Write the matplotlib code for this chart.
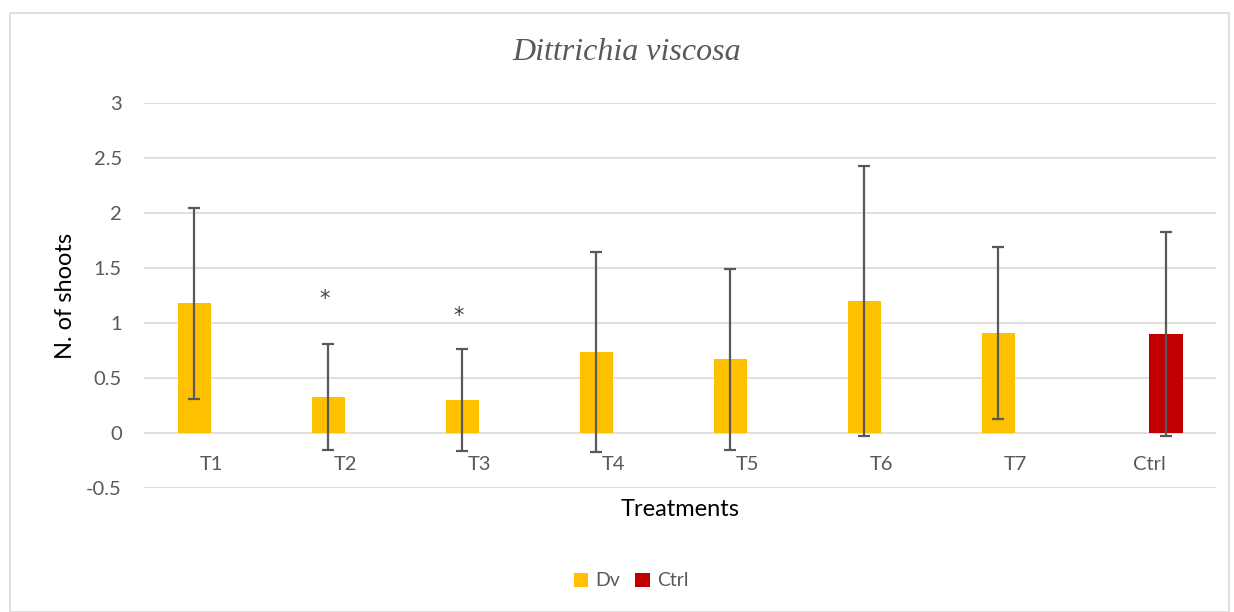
import matplotlib
matplotlib.use("Agg")
import matplotlib.pyplot as plt
import numpy as np
from matplotlib.patches import Rectangle

# data
categorias = ["T1", "T2", "T3", "T4", "T5", "T6", "T7", "Ctrl"]
dv_media = [1.18, 0.33, 0.30, 0.74, 0.67, 1.20, 0.91]
dv_erro = [0.87, 0.48, 0.46, 0.91, 0.82, 1.23, 0.78]
ctrl_media = [0.90]
ctrl_erro = [0.93]
asteriscos = {"T2": 1.22, "T3": 1.06}

cinza = "#595959"
plt.rcParams["font.family"] = ["Lato", "DejaVu Sans"]

fig = plt.figure(figsize=(12.34, 6.12), dpi=100)
ax = fig.add_axes([144/1234, 1 - 488/612, 1072/1234, 385/612])

# borda da figura
fig.patches.append(Rectangle((10/1234, 0), 1219/1234, 1 - 13/612,
                             transform=fig.transFigure, fill=False,
                             edgecolor="#d9d9d9", linewidth=1.2))

x = np.arange(len(categorias))
larg = 0.25
x_dv = x[:len(dv_media)] - larg/2
x_ctrl = x[len(dv_media):] + larg/2

err_kw = dict(ecolor=cinza, elinewidth=1.6, capsize=4.5, capthick=1.6)
ax.bar(x_dv, dv_media, larg, color="#FFC000", label="Dv",
       yerr=dv_erro, error_kw=err_kw, zorder=3)
ax.bar(x_ctrl, ctrl_media, larg, color="#C00000", label="Ctrl",
       yerr=ctrl_erro, error_kw=err_kw, zorder=3)

for cat, yv in asteriscos.items():
    i = categorias.index(cat)
    ax.text(x[i] - larg/2 - 0.03, yv, "*", ha="center", va="center",
            fontsize=15, color="#404040", family=["DejaVu Sans"])

ax.set_xlim(-0.5, len(categorias) - 0.5)
ax.set_ylim(-0.5, 3)
ax.set_yticks(np.arange(-0.5, 3.01, 0.5))
ax.set_yticklabels(["-0.5", "0", "0.5", "1", "1.5", "2", "2.5", "3"])
ax.yaxis.grid(True, color="#d9d9d9", linewidth=1.2, zorder=0)
ax.set_axisbelow(True)
for s in ax.spines.values():
    s.set_visible(False)
ax.tick_params(length=0, labelsize=14.5, colors=cinza, pad=16)
ax.set_xticks([])
# rótulos das categorias logo abaixo do zero, como no Excel
for i, c in enumerate(categorias):
    ax.text(x[i], -0.29, c, ha="center", va="center", fontsize=14.5, color=cinza)

ax.set_ylabel("N. of shoots", fontsize=17, color="black", labelpad=7)
fig.text(680/1234, 1 - 510/612, "Treatments", ha="center", va="center",
         fontsize=17, color="black")
fig.text(627/1234, 1 - 53/612, "Dittrichia viscosa", ha="center", va="center",
         fontsize=23, color=cinza, family=["Liberation Serif"], style="italic")

fig.legend(loc="center", bbox_to_anchor=(631/1234, 1 - 581/612), ncol=2,
           frameon=False, fontsize=14, handlelength=0.75, handleheight=0.75,
           columnspacing=0.8, handletextpad=0.35, labelcolor=cinza)

fig.savefig("out.png", dpi=100)
